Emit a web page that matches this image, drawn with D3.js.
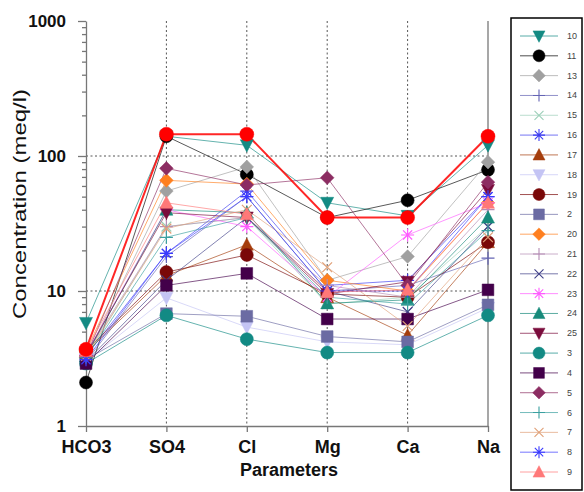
<!DOCTYPE html>
<html>
<head>
<meta charset="utf-8">
<script src="https://cdn.jsdelivr.net/npm/d3@7"></script>
<style>
  body { margin: 0; background: #fff; }
  text { font-family: "Liberation Sans", Arial, sans-serif; }
</style>
</head>
<body>
<svg id="chart" width="584" height="492"></svg>
<script>
// parameters on the x axis
const params = ["HCO3", "SO4", "Cl", "Mg", "Ca", "Na"];

// sample ids, legend order (the red one has no legend entry)
const ids = ["10", "11", "13", "14", "15", "16", "17", "18", "19", "2", "20", "21",
             "22", "23", "24", "25", "3", "4", "5", "6", "7", "8", "9", "1"];

// concentrations (meq/l), one row per id, columns follow params
const conc = [
  [5.8, 140, 120, 45, 36, 120],   // 10
  [2.1, 140, 73, 35, 47, 79],     // 11
  [3.2, 55, 83, 12, 18, 90],      // 13
  [3.0, 18, 50, 10, 11, 17.5],    // 14
  [3.2, 30, 35, 8, 9, 30],        // 15
  [3.3, 19, 55, 11, 12, 50],      // 16
  [3.5, 13, 22, 9, 4.7, 23],      // 17
  [3.0, 8.9, 5.4, 4.2, 4.0, 7.5], // 18
  [3.6, 13.8, 18.5, 9.5, 9.0, 23],// 19
  [3.1, 6.8, 6.5, 4.6, 4.2, 7.9], // 2
  [3.6, 66, 62, 12, 10, 45],      // 20
  [3.4, 30, 35, 11, 9, 40],       // 21
  [3.0, 12, 35, 10, 7, 30],       // 22
  [3.4, 40, 30, 9, 26, 45],       // 23
  [3.3, 40, 38, 8.1, 8.6, 35],    // 24
  [3.4, 38, 35, 9.5, 11.7, 56],   // 25
  [2.9, 6.6, 4.4, 3.5, 3.5, 6.6], // 3
  [2.9, 11, 13.5, 6.2, 6.2, 10.2],// 4
  [3.3, 81, 61, 69, 11, 64],      // 5
  [3.2, 25, 35, 9, 8, 28],        // 6
  [3.3, 29, 40, 15, 5.5, 25],     // 7
  [3.1, 19, 50, 10, 10, 50],      // 8
  [3.6, 45, 37, 9.8, 10.2, 45],   // 9
  [3.7, 145, 145, 35, 35, 140]    // 1
];

// marker shape and colour per id
const style = {
  "10": ["tridown", "#138a83"], "11": ["circle", "#000000"], "13": ["diamond", "#a0a0a0"],
  "14": ["plus", "#6464b4"], "15": ["cross", "#9ccfb8"], "16": ["star", "#3c3cf0"],
  "17": ["triup", "#a53d0c"], "18": ["tridown", "#c4c4f4"], "19": ["circle", "#7a0808"],
  "2": ["square", "#6b6ba3"], "20": ["diamond", "#ff7f1f"], "21": ["plus", "#b48cb4"],
  "22": ["cross", "#404088"], "23": ["star", "#ff5cff"], "24": ["triup", "#178a7a"],
  "25": ["tridown", "#7a0c3c"], "3": ["circle", "#128a84"], "4": ["square", "#43004a"],
  "5": ["diamond", "#8c2d62"], "6": ["plus", "#3aa0a0"], "7": ["cross", "#e0a078"],
  "8": ["star", "#3a3aff"], "9": ["triup", "#ff7878"], "1": ["circle", "#ff0000"]
};

const svg = d3.select("#chart");

const x = d3.scalePoint().domain(params).range([86, 488]);
const y = d3.scaleLog().domain([1, 1000]).range([426, 21]);

function shapePath(kind, r) {
  const p = d3.path();
  if (kind === "circle") { p.arc(0, 0, r, 0, 2 * Math.PI); }
  else if (kind === "square") { p.rect(-r * 0.9, -r * 0.9, r * 1.8, r * 1.8); }
  else if (kind === "diamond") { p.moveTo(0, -r * 1.05); p.lineTo(r * 1.05, 0); p.lineTo(0, r * 1.05); p.lineTo(-r * 1.05, 0); p.closePath(); }
  else if (kind === "triup") { p.moveTo(0, -r * 1.05); p.lineTo(r, r * 0.85); p.lineTo(-r, r * 0.85); p.closePath(); }
  else if (kind === "tridown") { p.moveTo(0, r * 1.05); p.lineTo(r, -r * 0.85); p.lineTo(-r, -r * 0.85); p.closePath(); }
  else if (kind === "plus") { p.moveTo(-r, 0); p.lineTo(r, 0); p.moveTo(0, -r); p.lineTo(0, r); }
  else if (kind === "cross") { const a = r * 0.75; p.moveTo(-a, -a); p.lineTo(a, a); p.moveTo(-a, a); p.lineTo(a, -a); }
  else if (kind === "star") {
    const a = r * 0.7;
    p.moveTo(-r, 0); p.lineTo(r, 0); p.moveTo(0, -r); p.lineTo(0, r);
    p.moveTo(-a, -a); p.lineTo(a, a); p.moveTo(-a, a); p.lineTo(a, -a);
  }
  return p.toString();
}
const stroked = k => k === "plus" || k === "cross" || k === "star";

// grid
const grid = svg.append("g").attr("stroke", "#555").attr("stroke-dasharray", "2,2.5").attr("stroke-width", 1);
grid.selectAll("line.v").data(params.slice(1, 5)).enter().append("line")
  .attr("x1", d => x(d)).attr("x2", d => x(d)).attr("y1", y(1000)).attr("y2", y(1));
grid.selectAll("line.h").data([10, 100]).enter().append("line")
  .attr("x1", x(params[0])).attr("x2", x(params[5])).attr("y1", d => y(d)).attr("y2", d => y(d));

// right frame line
svg.append("line").attr("x1", x("Na")).attr("x2", x("Na")).attr("y1", y(1000)).attr("y2", y(1))
  .attr("stroke", "#8a8a8a").attr("stroke-width", 1.5);

// axes
const yMajor = svg.append("g").attr("transform", `translate(${x("HCO3")},0)`)
  .call(d3.axisLeft(y).tickValues([1, 10, 100, 1000]).tickFormat(d3.format("d")).tickSize(8).tickPadding(12).tickSizeOuter(0));
const minors = [];
[1, 10, 100].forEach(b => { for (let k = 2; k <= 9; k++) minors.push(b * k); });
const yMinor = svg.append("g").attr("transform", `translate(${x("HCO3")},0)`)
  .call(d3.axisLeft(y).tickValues(minors).tickFormat("").tickSize(4).tickSizeOuter(0));
yMinor.select(".domain").remove();
const xAxis = svg.append("g").attr("transform", `translate(0,${y(1)})`)
  .call(d3.axisBottom(x).tickSize(6).tickPadding(8).tickSizeOuter(0));

[yMajor, yMinor, xAxis].forEach(g => {
  g.selectAll("path, line").attr("stroke", "#777").attr("stroke-width", 1.3);
  g.selectAll("text").attr("fill", "#111").style("font-size", "18px").style("font-weight", "bold");
});
yMajor.selectAll("text").style("font-size", "17px");

// axis titles
svg.append("text").attr("transform", "translate(26,204) rotate(-90)")
  .attr("text-anchor", "middle").attr("textLength", 230).attr("lengthAdjust", "spacingAndGlyphs")
  .style("font-size", "18px").attr("fill", "#111").text("Concentration (meq/l)");
svg.append("text").attr("x", 289).attr("y", 476).attr("text-anchor", "middle")
  .style("font-size", "18px").style("font-weight", "bold").attr("fill", "#111").text("Parameters");

// series lines, then markers
const rows = ids.map((id, i) => ({ id: id, vals: conc[i] }));
const line = d3.line().x((d, i) => x(params[i])).y(d => y(d));

svg.append("g").selectAll("path").data(rows).enter().append("path")
  .attr("d", d => line(d.vals))
  .attr("fill", "none")
  .attr("stroke", d => style[d.id][1])
  .attr("stroke-width", d => d.id === "1" ? 2 : 1)
  .attr("stroke-opacity", d => d.id === "1" ? 0.85 : 0.65);

const mk = svg.append("g");
rows.forEach(r => {
  const [kind, col] = style[r.id];
  mk.selectAll(null).data(r.vals).enter().append("path")
    .attr("transform", (d, i) => `translate(${x(params[i])},${y(d)})`)
    .attr("d", shapePath(kind, r.id === "1" ? 7 : 6.5))
    .attr("fill", stroked(kind) ? "none" : col)
    .attr("stroke", col)
    .attr("stroke-width", stroked(kind) ? 1.2 : 0.5);
});

// legend
const legIds = ids.filter(id => id !== "1");
svg.append("rect").attr("x", 511).attr("y", 18).attr("width", 71).attr("height", 472)
  .attr("fill", "#fff").attr("stroke", "#000").attr("stroke-width", 1.5);
const ly = d3.scalePoint().domain(legIds).range([36, 472]);
const leg = svg.append("g").selectAll("g").data(legIds).enter().append("g")
  .attr("transform", d => `translate(0,${ly(d)})`);
leg.append("line").attr("x1", 520).attr("x2", 558).attr("y1", 0).attr("y2", 0)
  .attr("stroke", d => style[d][1]).attr("stroke-opacity", 0.7).attr("stroke-width", 1);
leg.append("path").attr("transform", "translate(539,0)")
  .attr("d", d => shapePath(style[d][0], 6))
  .attr("fill", d => stroked(style[d][0]) ? "none" : style[d][1])
  .attr("stroke", d => style[d][1])
  .attr("stroke-width", d => stroked(style[d][0]) ? 1.1 : 0.5);
leg.append("text").attr("x", 567).attr("y", 3).style("font-size", "9px").attr("fill", "#444")
  .text(d => d);
</script>
</body>
</html>
